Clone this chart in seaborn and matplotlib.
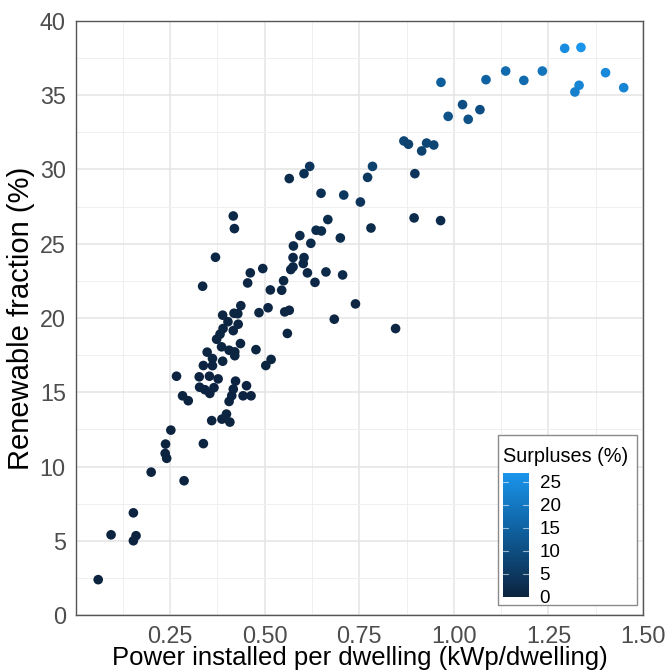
import numpy as np
import pandas as pd
import matplotlib
matplotlib.use("Agg")
import matplotlib.pyplot as plt
from matplotlib.colors import LinearSegmentedColormap, Normalize
from matplotlib.patches import Rectangle
import seaborn as sns

# ---- data ----
power_kwp = [
    0.060, 0.094, 0.153, 0.153, 0.160, 0.200, 0.238, 0.237, 0.241, 0.252,
    0.287, 0.338, 0.360, 0.387, 0.399, 0.408, 0.406, 0.283, 0.298, 0.267,
    0.327, 0.354, 0.338, 0.348, 0.362, 0.362, 0.389, 0.377, 0.328, 0.342,
    0.355, 0.366, 0.373, 0.386, 0.382, 0.390, 0.389, 0.403, 0.419, 0.429,
    0.437, 0.430, 0.417, 0.436, 0.406, 0.421, 0.421, 0.477, 0.503, 0.517,
    0.423, 0.417, 0.413, 0.452, 0.443, 0.464, 0.485, 0.509, 0.553, 0.565,
    0.560, 0.684, 0.740, 0.846, 0.336, 0.370, 0.417, 0.420, 0.455, 0.462,
    0.495, 0.515, 0.545, 0.550, 0.565, 0.604, 0.619, 0.649, 0.709, 0.753,
    0.667, 0.636, 0.650, 0.593, 0.700, 0.622, 0.576, 0.575, 0.604, 0.602,
    0.569, 0.575, 0.613, 0.662, 0.706, 0.633, 0.772, 0.785, 0.781, 0.897,
    0.895, 0.965, 0.868, 0.880, 0.928, 0.947, 0.915, 0.985, 1.023, 1.038,
    1.069, 0.966, 1.085, 1.137, 1.185, 1.234, 1.293, 1.336, 1.331, 1.320,
    1.401, 1.449,
]
renewable_pct = [
    2.38, 5.40, 6.88, 5.00, 5.34, 9.62, 11.51, 10.88, 10.55, 12.45,
    9.04, 11.54, 13.09, 13.19, 13.53, 12.99, 14.38, 14.76, 14.43, 16.08,
    16.04, 16.08, 16.80, 17.70, 17.27, 16.79, 17.09, 15.90, 15.34, 15.17,
    14.92, 15.31, 18.57, 18.06, 18.91, 19.29, 20.19, 19.75, 20.32, 20.29,
    20.83, 19.58, 19.15, 18.28, 17.83, 17.72, 17.46, 17.87, 16.80, 17.21,
    15.75, 15.21, 14.77, 15.44, 14.76, 14.76, 20.36, 20.69, 20.41, 20.52,
    18.96, 19.92, 20.95, 19.29, 22.14, 24.09, 26.87, 26.02, 22.36, 23.04,
    23.33, 21.89, 21.87, 22.51, 29.39, 29.72, 30.21, 28.40, 28.28, 27.81,
    26.63, 25.91, 25.86, 25.55, 25.39, 25.03, 24.85, 24.07, 24.07, 23.67,
    23.26, 23.44, 23.04, 23.10, 22.90, 22.40, 29.47, 30.21, 26.06, 29.72,
    26.74, 26.56, 31.92, 31.70, 31.78, 31.65, 31.25, 33.58, 34.37, 33.38,
    34.03, 35.87, 36.05, 36.63, 36.00, 36.63, 38.16, 38.22, 35.67, 35.22,
    36.52, 35.51,
]
surplus_pct = [
    0.0, 0.0, 0.0, 0.0, 0.0, 0.0, 0.0, 0.0, 0.0, 0.0,
    0.0, 0.0, 0.0, 0.0, 0.0, 0.0, 0.0, 0.0, 0.0, 0.2,
    0.2, 0.2, 0.2, 0.3, 0.3, 0.2, 0.3, 0.2, 0.2, 0.2,
    0.2, 0.2, 0.3, 0.3, 0.3, 0.4, 0.5, 0.4, 0.5, 0.5,
    0.5, 0.4, 0.4, 0.3, 0.3, 0.3, 0.3, 0.3, 0.3, 0.3,
    0.2, 0.2, 0.2, 0.2, 0.2, 0.2, 0.5, 0.5, 0.5, 0.5,
    0.4, 0.5, 0.5, 0.5, 0.6, 0.8, 1.2, 1.0, 0.6, 0.7,
    0.8, 0.6, 0.6, 0.7, 2.0, 3.0, 4.0, 3.0, 5.0, 4.0,
    2.0, 2.0, 2.0, 1.5, 2.0, 1.5, 1.5, 1.0, 1.0, 1.0,
    1.0, 1.0, 1.0, 1.5, 1.5, 1.0, 5.0, 7.0, 2.0, 4.0,
    2.0, 1.5, 8.0, 7.0, 8.0, 8.0, 7.0, 11.0, 10.0, 11.0,
    10.0, 14.0, 15.0, 17.0, 17.0, 19.0, 25.0, 27.0, 23.0, 22.0,
    24.0, 23.0,
]
x_ticks = [0.25, 0.50, 0.75, 1.00, 1.25, 1.50]
x_tick_labels = ["0.25", "0.50", "0.75", "1.00", "1.25", "1.50"]
y_ticks = [0, 5, 10, 15, 20, 25, 30, 35, 40]
cbar_ticks = [0, 5, 10, 15, 20, 25]

df = pd.DataFrame({"power": power_kwp, "renewable": renewable_pct, "surplus": surplus_pct})

# ---- style ----
sns.set_style("white")
plt.rcParams["font.family"] = ["Liberation Sans", "DejaVu Sans"]

W, H = 671, 671
fig = plt.figure(figsize=(W / 100, H / 100), dpi=100)
L, R, T, B = 75.5, 643, 21, 615
ax = fig.add_axes([L / W, 1 - B / H, (R - L) / W, (B - T) / H])

cmap = LinearSegmentedColormap.from_list("surp", ["#0C2440", "#0E5C98", "#1A95EC"])
norm = Normalize(vmin=0, vmax=27)

sns.scatterplot(data=df, x="power", y="renewable", hue="surplus", palette=cmap,
                hue_norm=norm, s=48, edgecolor="none", linewidth=0, legend=False,
                ax=ax, zorder=3)

ax.set_xlim(0, 1.5)
ax.set_ylim(0, 40)
ax.set_xticks(x_ticks)
ax.set_xticklabels(x_tick_labels)
ax.set_yticks(y_ticks)
ax.set_xticks([0.125, 0.375, 0.625, 0.875, 1.125, 1.375], minor=True)
ax.set_yticks([2.5, 7.5, 12.5, 17.5, 22.5, 27.5, 32.5, 37.5], minor=True)
ax.grid(True, which="major", color="#e4e4e4", lw=1.1, zorder=0)
ax.grid(True, which="minor", color="#efefef", lw=0.7, zorder=0)
ax.set_axisbelow(True)
ax.tick_params(axis="both", which="major", labelsize=16.8, labelcolor="#4d4d4d",
               color="#555555", length=5, width=1, pad=2, direction="out")
ax.tick_params(axis="both", which="minor", length=0)
for sp in ax.spines.values():
    sp.set_color("#555555")
    sp.set_linewidth(1.0)
ax.set_xlabel("")
ax.set_ylabel("")

fig.text(360 / W, 1 - 658 / H, "Power installed per dwelling (kWp/dwelling)",
         ha="center", va="center", fontsize=18.5, color="black")
fig.text(21 / W, 1 - 318 / H, "Renewable fraction (%)", rotation=90,
         ha="center", va="center", fontsize=21, color="black")

# ---- legend (colorbar in a box) ----
box = Rectangle((498 / W, 1 - 605 / H), (637 - 498) / W, (605 - 435) / H,
                transform=fig.transFigure, facecolor="white", edgecolor="#8a8a8a",
                lw=1.0, zorder=5)
fig.patches.append(box)
fig.text(503 / W, 1 - 457 / H, "Surpluses (%)", ha="left", va="center",
         fontsize=14.3, color="black", zorder=6)
cax = fig.add_axes([503 / W, 1 - 596.7 / H, 25.5 / W, 124 / H], zorder=6)
cb = fig.colorbar(plt.cm.ScalarMappable(norm=norm, cmap=cmap), cax=cax)
cb.set_ticks(cbar_ticks)
cb.outline.set_visible(False)
cax.tick_params(length=0, labelsize=13.5, pad=8, labelcolor="black")
for v in cbar_ticks[1:]:
    cax.plot([0, 0.2], [v, v], color="white", alpha=0.6, lw=0.8)
    cax.plot([0.8, 1], [v, v], color="white", alpha=0.6, lw=0.8)

fig.savefig("out.png", dpi=100)
